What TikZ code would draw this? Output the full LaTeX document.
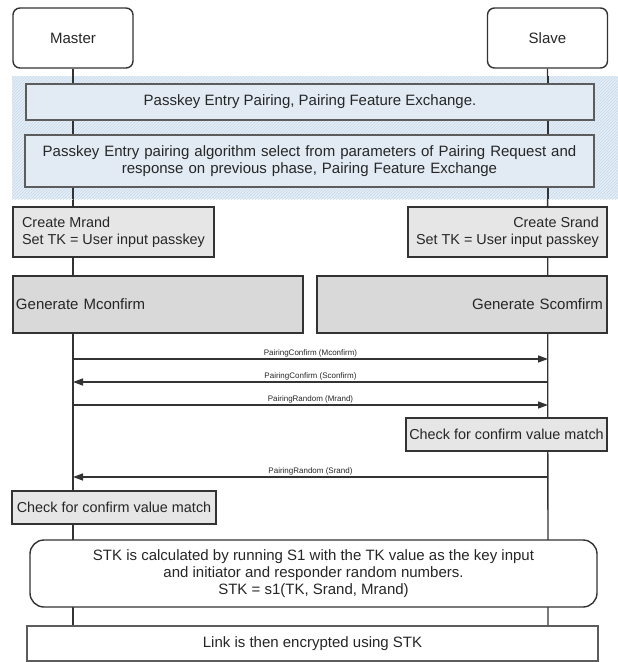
\documentclass[tikz,border=0pt]{standalone}
\usepackage{fontspec}
\setmainfont{Liberation Sans}
\usetikzlibrary{arrows.meta,patterns}
\definecolor{edge}{HTML}{333333}
\definecolor{bluebg}{HTML}{E4EDF6}
\definecolor{bluehatch}{HTML}{C9D9EA}
\definecolor{bluebox}{HTML}{E2EBF4}
\definecolor{lgray}{HTML}{E6E6E6}
\definecolor{mgray}{HTML}{D9D9D9}
\begin{document}
\begin{tikzpicture}[x=1pt,y=-1pt,
  txt/.style={font=\fontsize{15}{17}\selectfont, text=black!85},
  stxt/.style={font=\fontsize{14.4}{17}\selectfont},
  actor/.style={txt, draw=edge, line width=1.4pt, rounded corners=7pt, fill=white, minimum width=120pt, minimum height=60pt, inner sep=0pt},
  phase/.style={txt, draw=edge!80, line width=1.2pt, fill=bluebox, inner sep=0pt, align=center},
  gbox/.style={txt, draw=edge, line width=1.4pt, inner sep=0pt},
  life/.style={draw=edge, line width=1.3pt},
  msg/.style={draw=edge, line width=1.4pt, -{Triangle[length=10pt,width=7pt]}},
  mlabel/.style={font=\fontsize{8}{9}\selectfont, text=black!85, above=0.5pt, inner sep=1pt}
]
\useasboundingbox (0,0) rectangle (618,662);

% actors
\node[actor] (master) at (73,38) {Master};
\node[actor] (slave) at (547.5,38) {Slave};
\coordinate (mend) at (73,626);
\coordinate (send) at (548,626);
\draw[life] (master.south) -- (mend);
\draw[life] (slave.south) -- (send);

% blue hatched phase region
\fill[bluebg] (12,76) rectangle (618,199);
\fill[pattern=north east lines, pattern color=bluehatch] (12,76) rectangle (618,199);
\draw[life] (73,76) -- (73,199);
\draw[life] (548,76) -- (548,199);

\node[phase, minimum width=568pt, minimum height=36pt] (ph1) at (310,102) {Passkey Entry Pairing, Pairing Feature Exchange.};
\node[phase, minimum width=569pt, minimum height=52pt, text width=560pt] (ph2) at (309.5,161)
  {Passkey Entry pairing algorithm select from parameters of Pairing Request and\\ response on previous phase, Pairing Feature Exchange};

% create rand
\node[gbox, stxt, fill=lgray, minimum width=201pt, minimum height=50pt, align=left] (cm) at (113.5,232)
  {Create Mrand\\Set TK = User input passkey};
\node[gbox, stxt, fill=lgray, minimum width=199pt, minimum height=50pt, align=right] (cs) at (507.5,232)
  {Create Srand\\Set TK = User input passkey};

% generate confirm
\node[gbox, fill=mgray, minimum width=290pt, minimum height=57pt, text width=284pt, align=left] (gm) at (158,304.5)
  {Generate Mconfirm};
\node[gbox, fill=mgray, minimum width=290pt, minimum height=57pt, text width=282pt, align=right] (gs) at (462,304.5)
  {Generate Scomfirm};

% messages
\coordinate (m1a) at (73,359);  \coordinate (m1b) at (548,359);
\coordinate (m2a) at (73,382);  \coordinate (m2b) at (548,382);
\coordinate (m3a) at (73,405);  \coordinate (m3b) at (548,405);
\coordinate (m4a) at (73,477);  \coordinate (m4b) at (548,477);
\draw[msg] (m1a) -- node[mlabel] {PairingConfirm (Mconfirm)} (m1b);
\draw[msg] (m2b) -- node[mlabel] {PairingConfirm (Sconfirm)} (m2a);
\draw[msg] (m3a) -- node[mlabel] {PairingRandom (Mrand)} (m3b);

\node[gbox, stxt, fill=lgray, minimum width=201pt, minimum height=33pt] (chs) at (506.5,434.5) {Check for confirm value match};
\draw[msg] (m4b) -- node[mlabel] {PairingRandom (Srand)} (m4a);
\node[gbox, stxt, fill=lgray, minimum width=204pt, minimum height=33pt] (chm) at (114,507.5) {Check for confirm value match};

% STK
\node[gbox, fill=white, rounded corners=14pt, minimum width=567pt, minimum height=67pt, align=center] (stk) at (313.5,573.5)
  {STK is calculated by running S1 with the TK value as the key input\\ and initiator and responder random numbers.\\ STK = s1(TK, Srand, Mrand)};

\node[gbox, draw=edge!80, line width=1.1pt, fill=white, minimum width=571pt, minimum height=35pt] (link) at (312.5,643.5)
  {Link is then encrypted using STK};
\end{tikzpicture}
\end{document}
